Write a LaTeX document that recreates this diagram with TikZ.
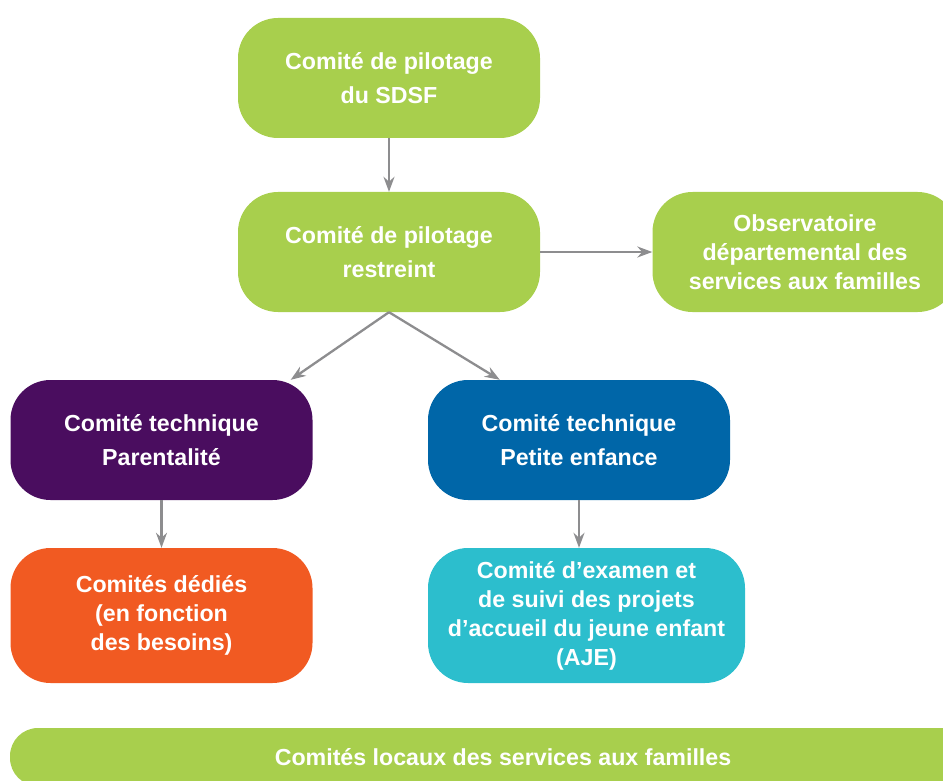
\documentclass[tikz,border=0pt]{standalone}
\usepackage{fontspec}
\setmainfont{Liberation Sans}
\usepackage{tikz}
\usetikzlibrary{arrows.meta,calc,positioning}

\definecolor{sdsfgreen}{HTML}{A8CF4D}
\definecolor{sdsfpurple}{HTML}{4A0D5F}
\definecolor{sdsfblue}{HTML}{0066A8}
\definecolor{sdsforange}{HTML}{F15A22}
\definecolor{sdsfcyan}{HTML}{2CBECD}
\definecolor{linkgray}{HTML}{8D8D8F}

\tikzset{
  box/.style = {rounded corners=40pt, text=white, align=center, inner sep=0pt,
    minimum width=302pt, minimum height=120pt,
    font=\bfseries\fontsize{23.2}{34}\selectfont},
  tight/.style = {font=\bfseries\fontsize{23.2}{29}\selectfont},
  link/.style = {draw=linkgray, line width=2.3pt, -{Stealth[length=15pt,width=11pt]}}
}

\begin{document}
\begin{tikzpicture}[x=1pt,y=-1pt]
  \clip (0,0) rectangle (943,781);

  \node[box, fill=sdsfgreen] (pilotage) at (389,78) {Comité de pilotage\\du SDSF};
  \node[box, fill=sdsfgreen] (restreint) at (389,252) {Comité de pilotage\\restreint};
  \node[box, tight, fill=sdsfgreen, minimum width=305pt] (observatoire) at (805,252)
    {Observatoire\\départemental des\\services aux familles};
  \node[box, fill=sdsfpurple] (parent) at (161.5,440) {Comité technique\\Parentalité};
  \node[box, fill=sdsfblue] (petite) at (579,440) {Comité technique\\Petite enfance};
  \node[box, tight, fill=sdsforange, minimum height=135pt] (dedies) at (161.5,615.5)
    {Comités dédiés\\(en fonction\\des besoins)};
  \node[box, tight, fill=sdsfcyan, minimum width=317pt, minimum height=135pt] (aje) at (586.5,615.5)
    {Comité d’examen et\\de suivi des projets\\d’accueil du jeune enfant\\(AJE)};
  \node[box, fill=sdsfgreen, rounded corners=28pt, minimum width=986pt, minimum height=58pt] (locaux) at (503,757)
    {Comités locaux des services aux familles};

  \draw[link] (pilotage) -- (restreint);
  \draw[link] (restreint) -- (observatoire);
  \draw[link] (restreint.south) -- ([xshift=-22pt]parent.north east);
  \draw[link] (restreint.south) -- ([xshift=72pt]petite.north west);
  \draw[link] (parent) -- (dedies);
  \draw[link] (petite.south) -- (petite.south |- aje.north);
\end{tikzpicture}
\end{document}
